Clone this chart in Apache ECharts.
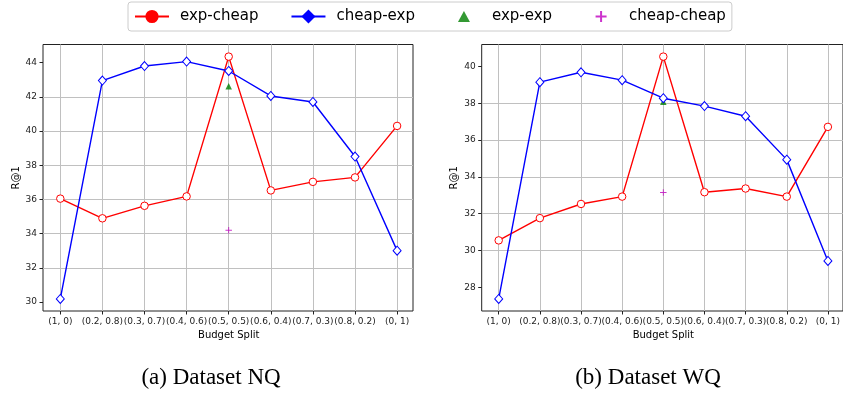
<!DOCTYPE html>
<html>
<head>
<meta charset="utf-8">
<script src="https://cdn.jsdelivr.net/npm/echarts@6/dist/echarts.min.js"></script>
<style>
html,body{margin:0;padding:0;background:#fff;}
#chart{width:843px;height:396px;}
</style>
</head>
<body>
<div id="chart"></div>
<script>
// ---- data ----
const categories = ['(1, 0)', '(0.2, 0.8)', '(0.3, 0.7)', '(0.4, 0.6)', '(0.5, 0.5)', '(0.6, 0.4)', '(0.7, 0.3)', '(0.8, 0.2)', '(0, 1)'];
const seriesNames = ['exp-cheap', 'cheap-exp', 'exp-exp', 'cheap-cheap'];

const nqExpCheap = [36.05, 34.90, 35.63, 36.18, 44.35, 36.53, 37.03, 37.29, 40.30];
const nqCheapExp = [30.19, 42.95, 43.80, 44.06, 43.51, 42.05, 41.70, 38.51, 33.01];
const nqExpExp = [['(0.5, 0.5)', 42.62]];
const nqCheapCheap = [['(0.5, 0.5)', 34.20]];

const wqExpCheap = [30.55, 31.76, 32.53, 32.93, 40.54, 33.17, 33.37, 32.93, 36.72];
const wqCheapExp = [27.37, 39.15, 39.69, 39.26, 38.28, 37.85, 37.30, 34.94, 29.43];
const wqExpExp = [['(0.5, 0.5)', 38.08]];
const wqCheapCheap = [['(0.5, 0.5)', 33.15]];

const nqTicks = [30, 32, 34, 36, 38, 40, 42, 44];
const wqTicks = [28, 30, 32, 34, 36, 38, 40];

const captions = ['(a) Dataset NQ', '(b) Dataset WQ'];
const yName = 'R@1';
const xName = 'Budget Split';

// ---- styling ----
const RED = '#ff0000', BLUE = '#0000ff', GREEN = '#008000', MAGENTA = '#bf00bf';
const FONT = 'DejaVu Sans';
const PLUS = 'path://M4.3,0H5.7V4.3H10V5.7H5.7V10H4.3V5.7H0V4.3H4.3Z';
// legend icons padded to the 34x14 item box so they are not stretched
const LEG_TRI = 'path://M0,0M34,14M11,12.5L17,1.5L23,12.5Z';
const LEG_PLUS = 'path://M0,0M34,14M16,1.5H18V6H22.5V8H18V12.5H16V8H11.5V6H16Z';

function extentOf(arrs) {
  let lo = Infinity, hi = -Infinity;
  arrs.forEach(a => a.forEach(v => { const y = Array.isArray(v) ? v[1] : v; lo = Math.min(lo, y); hi = Math.max(hi, y); }));
  const pad = (hi - lo) * 0.05;
  return [lo - pad, hi + pad];
}
const nqExt = extentOf([nqExpCheap, nqCheapExp, nqExpExp, nqCheapCheap]);
const wqExt = extentOf([wqExpCheap, wqCheapExp, wqExpExp, wqCheapCheap]);

const frames = [
  {left: 43, right: 430, top: 44.5, bottom: 85},
  {left: 481.7, right: -8.5, top: 44.5, bottom: 85}
];
const inners = [
  {left: 60.3, right: 445.9, top: 44.5, bottom: 85},
  {left: 498.7, right: 8.3, top: 44.5, bottom: 85}
];

const grid = [];
const xAxis = [];
const yAxis = [];
const series = [];

function labelFmt(v) {
  const r = Math.round(v);
  return (Math.abs(v - r) < 1e-6 && r % 2 === 0) ? String(r) : '';
}

[[nqExt, nqTicks, nqExpCheap, nqCheapExp, nqExpExp, nqCheapCheap],
 [wqExt, wqTicks, wqExpCheap, wqCheapExp, wqExpExp, wqCheapCheap]].forEach((d, i) => {
  const [ext, ticks, ec, ce, ee, cc] = d;
  const fg = grid.length;
  grid.push(Object.assign({show: true, borderColor: '#222', borderWidth: 1, backgroundColor: 'rgba(0,0,0,0)'}, frames[i]));
  const ig = grid.length;
  grid.push(Object.assign({}, inners[i]));

  xAxis.push({gridIndex: fg, type: 'value', show: false, min: 0, max: 1});
  yAxis.push({
    gridIndex: fg, type: 'value', min: ext[0], max: ext[1],
    splitNumber: 7, minInterval: 2, maxInterval: 2,
    name: yName, nameLocation: 'middle', nameGap: 22,
    nameTextStyle: {fontFamily: FONT, fontSize: 10, color: '#000'},
    axisLine: {show: false},
    axisTick: {show: true, length: 3.5, inside: false, customValues: ticks, lineStyle: {color: '#222', width: 1}},
    axisLabel: {show: true, margin: 6, fontFamily: FONT, fontSize: 9, color: '#222', formatter: labelFmt},
    splitLine: {show: true, showMinLine: false, showMaxLine: false, lineStyle: {color: '#c0c0c0', width: 1}}
  });
  const xi = xAxis.length;
  xAxis.push({
    gridIndex: ig, type: 'category', data: categories, boundaryGap: false,
    name: xName, nameLocation: 'middle', nameGap: 17,
    nameTextStyle: {fontFamily: FONT, fontSize: 10, color: '#000'},
    axisLine: {show: false},
    axisTick: {show: true, length: 3.5, inside: false, interval: 0, lineStyle: {color: '#222', width: 1}},
    axisLabel: {show: true, interval: 0, margin: 6, fontFamily: FONT, fontSize: 9, color: '#222'},
    splitLine: {show: true, interval: 0, lineStyle: {color: '#c0c0c0', width: 1}}
  });
  const yi = yAxis.length;
  yAxis.push({gridIndex: ig, type: 'value', min: ext[0], max: ext[1], show: false, splitLine: {show: false}});

  series.push({
    name: seriesNames[0], type: 'line', xAxisIndex: xi, yAxisIndex: yi, data: ec,
    symbol: 'circle', symbolSize: 7.5, animation: false,
    lineStyle: {color: RED, width: 1.4},
    itemStyle: {color: '#ffffff', borderColor: RED, borderWidth: 1}
  });
  series.push({
    name: seriesNames[1], type: 'line', xAxisIndex: xi, yAxisIndex: yi, data: ce,
    symbol: 'diamond', symbolSize: [8, 9], animation: false,
    lineStyle: {color: BLUE, width: 1.4},
    itemStyle: {color: '#ffffff', borderColor: BLUE, borderWidth: 1}
  });
  series.push({
    name: seriesNames[2], type: 'scatter', xAxisIndex: xi, yAxisIndex: yi, data: ee,
    symbol: 'triangle', symbolSize: 6.5, animation: false,
    itemStyle: {color: GREEN}
  });
  series.push({
    name: seriesNames[3], type: 'scatter', xAxisIndex: xi, yAxisIndex: yi, data: cc,
    symbol: PLUS, symbolSize: 6.5, animation: false,
    itemStyle: {color: MAGENTA}
  });
});

const option = {
  animation: false,
  backgroundColor: '#ffffff',
  textStyle: {fontFamily: FONT},
  grid, xAxis, yAxis, series,
  legend: {
    left: 128, top: 2, padding: 6,
    itemWidth: 34, itemHeight: 14, itemGap: 32,
    borderColor: '#cccccc', borderWidth: 1, borderRadius: 3,
    backgroundColor: '#ffffff',
    textStyle: {fontFamily: FONT, fontSize: 15, color: '#000', lineHeight: 17, padding: [0, 0, 0, 6]},
    selectedMode: false,
    data: [
      {name: seriesNames[0], itemStyle: {color: RED, borderColor: RED}, lineStyle: {color: RED, width: 2}},
      {name: seriesNames[1], itemStyle: {color: BLUE, borderColor: BLUE}, lineStyle: {color: BLUE, width: 2}},
      {name: seriesNames[2], icon: LEG_TRI, itemStyle: {color: GREEN}},
      {name: seriesNames[3], icon: LEG_PLUS, itemStyle: {color: MAGENTA}}
    ]
  },
  graphic: [
    {type: 'text', x: 211, y: 378, style: {text: captions[0], fontFamily: 'Liberation Serif', fontSize: 23, fill: '#000', textAlign: 'center', textVerticalAlign: 'middle'}},
    {type: 'text', x: 648, y: 378, style: {text: captions[1], fontFamily: 'Liberation Serif', fontSize: 23, fill: '#000', textAlign: 'center', textVerticalAlign: 'middle'}}
  ]
};

const chart = echarts.init(document.getElementById('chart'), null, {renderer: 'canvas'});
chart.setOption(option);
</script>
</body>
</html>
